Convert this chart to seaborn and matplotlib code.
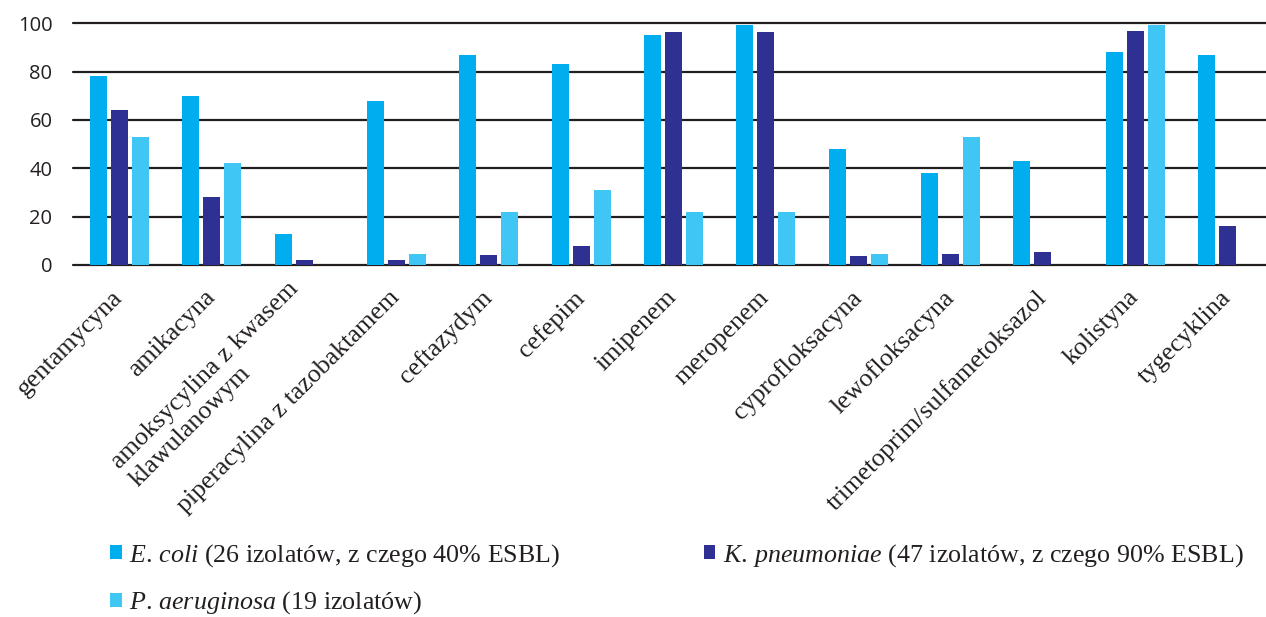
import numpy as np
import pandas as pd
import matplotlib
matplotlib.use("Agg")
import matplotlib.pyplot as plt
from matplotlib.patches import Patch
import seaborn as sns

antibiotics = [
    "gentamycyna", "amikacyna", "amoksycylina z kwasem\nklawulanowym",
    "piperacylina z tazobaktamem", "ceftazydym", "cefepim", "imipenem",
    "meropenem", "cyprofloksacyna", "lewofloksacyna",
    "trimetoprim/sulfametoksazol", "kolistyna", "tygecyklina",
]
e_coli = [78, 70, 13, 68, 87, 83, 95, 99.5, 48, 38, 43, 88, 87]
k_pneumoniae = [64, 28, 2, 2, 4.3, 8, 96.5, 96.5, 3.7, 4.5, 5.4, 97, 16]
p_aeruginosa = [53, 42, np.nan, 4.6, 22, 31, 22, 22, 4.5, 53, np.nan, 99.5, np.nan]

species = ["E. coli", "K. pneumoniae", "P. aeruginosa"]
legend_labels = [
    r"$\mathit{E.\,coli}$ (26 izolatów, z czego 40% ESBL)",
    r"$\mathit{K.\,pneumoniae}$ (47 izolatów, z czego 90% ESBL)",
    r"$\mathit{P.\,aeruginosa}$ (19 izolatów)",
]
colors = ["#00aeef", "#2e3192", "#40c6f4"]
y_ticks = [0, 20, 40, 60, 80, 100]

df = pd.DataFrame({
    "antybiotyk": antibiotics * 3,
    "gatunek": [species[0]] * 13 + [species[1]] * 13 + [species[2]] * 13,
    "wartosc": e_coli + k_pneumoniae + p_aeruginosa,
}).dropna()

sns.set_theme(style="white")
plt.rcParams["mathtext.fontset"] = "custom"
plt.rcParams["mathtext.it"] = "Liberation Serif:italic"
plt.rcParams["mathtext.rm"] = "Liberation Serif"

W, H = 1266, 617
fig = plt.figure(figsize=(W / 100, H / 100), dpi=100)
left, right, top, bottom = 73.3, 1273.6, 23.3, 265.0
ax = fig.add_axes([left / W, 1 - bottom / H, (right - left) / W, (bottom - top) / H])

sns.barplot(data=df, x="antybiotyk", y="wartosc", hue="gatunek",
            order=antibiotics, hue_order=species, palette=colors,
            width=0.6825, gap=0.19, errorbar=None, saturation=1,
            legend=False, ax=ax, zorder=2, linewidth=0, edgecolor="none")

ax.set_xlim(-0.5, len(antibiotics) - 0.5)
ax.set_ylim(0, 100)
ax.set_yticks(y_ticks)
for y in y_ticks:
    ax.axhline(y, color="#231f20", lw=1.6, clip_on=False, zorder=1)
for s in ax.spines.values():
    s.set_visible(False)
ax.grid(False)
ax.set_xlabel("")
ax.set_ylabel("")

ax.tick_params(axis="y", length=0, pad=15, labelsize=14.5, labelcolor="#231f20")
for lab in ax.get_yticklabels():
    lab.set_fontfamily("Open Sans")

ax.tick_params(axis="x", length=0, pad=21)
ax.set_xticks(range(len(antibiotics)))
ax.set_xticklabels(antibiotics, rotation=45, ha="right", va="center",
                   rotation_mode="anchor", family="Liberation Serif",
                   fontsize=18.7, color="#231f20", multialignment="left")

handles = [Patch(facecolor=c, edgecolor="none", linewidth=0) for c in colors]
order = [0, 2, 1]
fig.legend([handles[i] for i in order], [legend_labels[i] for i in order],
           ncol=2, loc="upper left", bbox_to_anchor=(110 / W, 1 - 542 / H),
           frameon=False, borderpad=0, borderaxespad=0,
           handlelength=0.45, handleheight=0.45, handletextpad=0.3,
           columnspacing=5.5, labelspacing=0.8,
           prop={"family": "Liberation Serif", "size": 18.7},
           labelcolor="#231f20")

fig.savefig("out.png", dpi=100)
